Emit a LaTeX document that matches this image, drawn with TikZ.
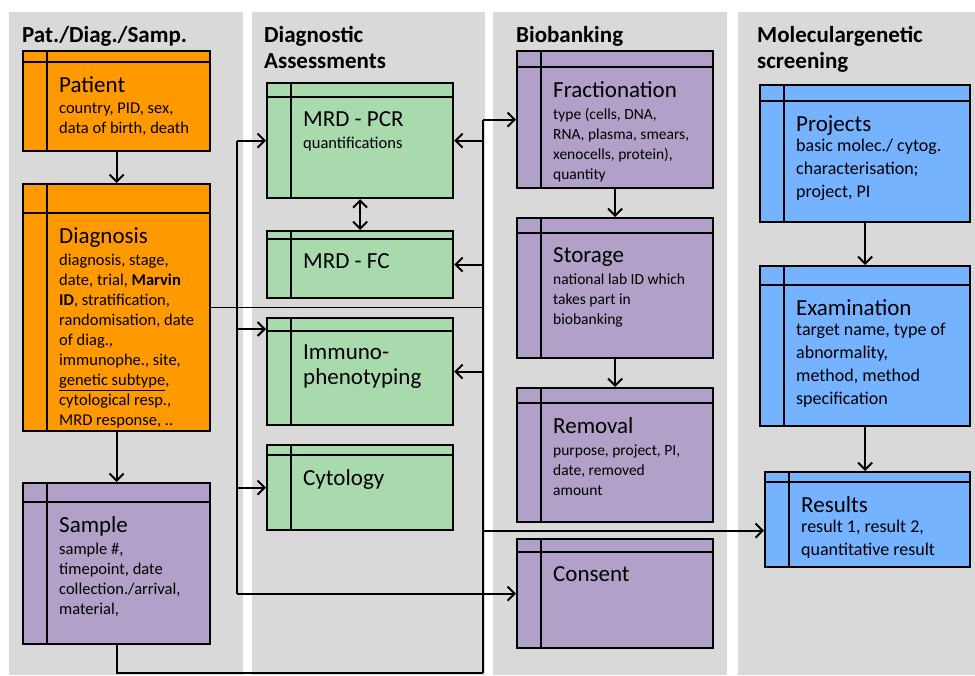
\documentclass[tikz,border=0pt]{standalone}
\usepackage{fontspec}
\setmainfont{Carlito}
\usetikzlibrary{positioning,arrows.meta}

\definecolor{colbg}{RGB}{217,217,217}
\definecolor{patorange}{RGB}{255,153,0}
\definecolor{diagreen}{RGB}{169,218,174}
\definecolor{biopurple}{RGB}{177,160,199}
\definecolor{molblue}{RGB}{117,178,255}

\tikzset{
    tbl/.style={draw=black, line width=2.2pt, anchor=north west, inner sep=0pt},
    tblline/.style={line width=2pt},
    ttl/.style={anchor=north west, inner sep=0pt, align=left, font=\fontsize{23}{25}\selectfont},
    fld/.style={inner sep=0pt, align=left, yshift=-4pt, font=\fontsize{16.5}{20}\selectfont},
    colhead/.style={anchor=north west, inner sep=0pt, align=left, font=\bfseries\fontsize{23}{26}\selectfont},
    conn/.style={line width=2pt},
    arr/.style={line width=2pt, -{Straight Barb[length=7pt,width=14pt]}},
    dblarr/.style={line width=2pt, {Straight Barb[length=7pt,width=14pt]}-{Straight Barb[length=7pt,width=14pt]}},
}

% name, x, y, width, height, header, fill, title, fields
\newcommand{\dbtable}[9]{%
    \node[tbl, fill=#7, minimum width=#4pt, minimum height=#5pt] (#1) at (#2,#3) {};
    \draw[tblline] ([yshift=-#6pt]#1.north west) -- ([yshift=-#6pt]#1.north east);
    \draw[tblline] ([xshift=25pt]#1.north west) -- ([xshift=25pt]#1.south west);
    \node[ttl] (#1-t) at ([shift={(37,#6+14)}]#1.north west) {#8};
    \node[fld, below=7pt of #1-t.base west, anchor=north west] (#1-f) {#9};
}

\begin{document}
\begin{tikzpicture}[x=1pt, y=-1pt]
    \useasboundingbox (0,0) rectangle (975,675);
    \foreach \xa/\xb in {9/243, 252/485, 493/727, 738/975}
        \fill[colbg] (\xa,12) rectangle (\xb,675);

    \node[colhead] (h-pat) at (22,26) {Pat./Diag./Samp.};
    \node[colhead] (h-dia) at (264,26) {Diagnostic\\Assessments};
    \node[colhead] (h-bio) at (516,26) {Biobanking};
    \node[colhead] (h-mol) at (757,26) {Moleculargenetic\\screening};

    \dbtable{pat}{22}{50}{187}{100}{12}{patorange}{Patient}{country, PID, sex,\\data of birth, death}
    \dbtable{diag}{22}{183}{187}{247}{30}{patorange}{Diagnosis}{diagnosis, stage,\\date, trial, \textbf{Marvin}\\\textbf{ID}, stratification,\\randomisation, date\\of diag.,\\immunophe., site,\\\underline{genetic subtype},\\cytological resp.,\\MRD response, ..}
    \dbtable{sam}{22}{482}{187}{161}{20}{biopurple}{Sample}{sample \#,\\timepoint, date\\collection./arrival,\\material,}

    \dbtable{pcr}{266}{82}{186}{115}{15}{diagreen}{MRD - PCR}{quantifications}
    \dbtable{fc}{266}{230}{186}{67}{9}{diagreen}{MRD - FC}{}
    \dbtable{imm}{266}{317}{186}{107}{14}{diagreen}{Immuno-\\phenotyping}{}
    \dbtable{cyt}{266}{444}{186}{85}{11}{diagreen}{Cytology}{}

    \begin{scope}[fld/.append style={font=\fontsize{15.5}{20}\selectfont}]
    \dbtable{frac}{516}{50}{196}{137}{17}{biopurple}{Fractionation}{type (cells, DNA,\\RNA, plasma, smears,\\xenocells, protein),\\quantity}
    \dbtable{sto}{516}{217}{196}{140}{16}{biopurple}{Storage}{national lab ID which\\takes part in\\biobanking}
    \dbtable{rem}{516}{387}{196}{134}{16}{biopurple}{Removal}{purpose, project, PI,\\date, removed\\amount}
    \dbtable{con}{516}{538}{196}{109}{14}{biopurple}{Consent}{}
    \end{scope}

    \begin{scope}[fld/.append style={yshift=3pt, font=\fontsize{18}{23}\selectfont}]
    \dbtable{proj}{759}{84}{210}{137}{17}{molblue}{Projects}{basic molec./ cytog.\\characterisation;\\project, PI}
    \dbtable{exam}{759}{265}{210}{160}{20}{molblue}{Examination}{target name, type of\\abnormality,\\method, method\\specification}
    \dbtable{res}{764}{471}{205}{95}{11}{molblue}{Results}{result 1, result 2,\\quantitative result}
    \end{scope}

    \coordinate (lbus) at (237,0);
    \coordinate (rbus) at (483,0);
    \coordinate (bot) at (0,673);
    \coordinate (imm-in) at ([yshift=-12pt]imm.north west);
    \coordinate (res-in) at ([yshift=-11pt]res.west);

    \draw[arr] (pat) -- (diag);
    \draw[arr] (diag) -- (sam);
    \draw[arr] (frac) -- (sto);
    \draw[arr] (sto) -- (rem);
    \draw[arr] (proj) -- (exam);
    \draw[arr] (exam.south) -- (exam.south |- res.north);
    \draw[dblarr] (pcr) -- (fc);

    \draw[conn] (lbus |- pcr.west) -- (lbus |- con.west);
    \draw[arr] (lbus |- pcr.west) -- (pcr.west);
    \draw[arr] (lbus |- imm-in) -- (imm-in);
    \draw[arr] (lbus |- cyt.west) -- (cyt.west);
    \draw[arr] (lbus |- con.west) -- (con.west);
    \draw[conn, line width=1.5pt] (diag.east) -- (rbus |- diag.east);

    \draw[conn] (sam.south) -- (sam.south |- bot) -- (rbus |- bot);
    \draw[conn, line width=2.6pt] (rbus |- bot) -- (rbus |- frac.west);
    \draw[arr] (rbus |- frac.west) -- (frac.west);
    \draw[arr] (rbus |- pcr.east) -- (pcr.east);
    \draw[arr] (rbus |- fc.east) -- (fc.east);
    \draw[arr] (rbus |- imm.east) -- (imm.east);
    \draw[arr] (rbus |- res-in) -- (res-in);
\end{tikzpicture}
\end{document}
